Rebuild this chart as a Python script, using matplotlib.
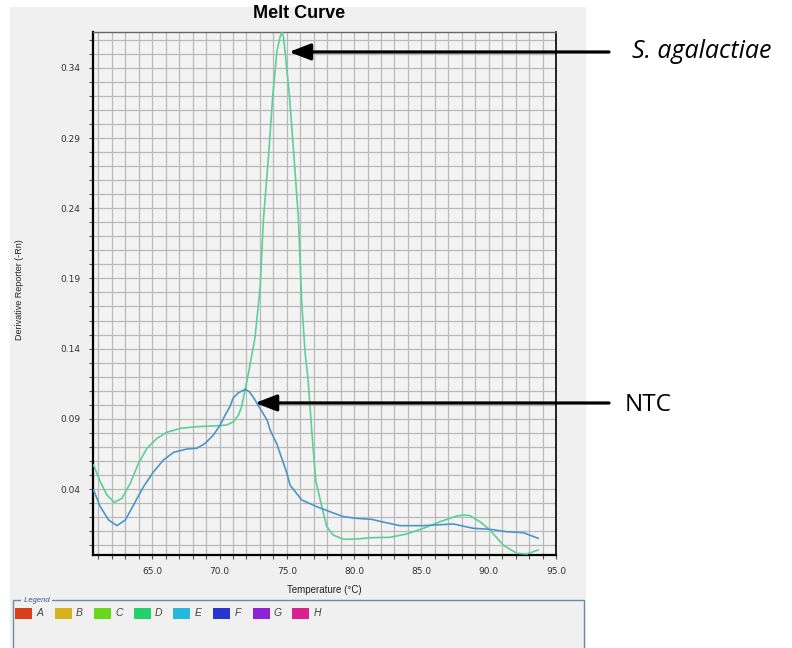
import matplotlib
matplotlib.use("Agg")
import matplotlib.pyplot as plt
from matplotlib.patches import Rectangle
from matplotlib.ticker import MultipleLocator, FixedLocator, FormatStrFormatter

# S. agalactiae melt curve (green)
green_t = [60.64, 61.14, 61.64, 62.18, 62.75, 63.37, 63.98, 64.61, 65.35, 66.09,
           67.08, 68.32, 69.55, 70.55, 71.04, 71.41, 71.65, 71.9, 72.2, 72.64,
           73.02, 73.26, 73.63, 73.96, 74.26, 74.5, 74.63, 74.75, 74.87, 75.19,
           75.54, 75.86, 76.11, 76.36, 76.58, 76.85, 77.15, 77.6, 77.97, 78.46,
           79.2, 80.2, 81.18, 82.67, 83.91, 85.14, 86.38, 87.62, 88.2, 88.61,
           89.35, 90.09, 91.08, 92.08, 92.82, 93.68]
green_v = [0.0571, 0.0452, 0.0357, 0.0305, 0.0334, 0.0441, 0.0583, 0.069, 0.0761, 0.0804,
           0.0832, 0.0844, 0.0849, 0.0856, 0.0879, 0.0927, 0.099, 0.1105, 0.125, 0.148,
           0.184, 0.2316, 0.2758, 0.3206, 0.3515, 0.362, 0.3653, 0.362, 0.3515, 0.3206,
           0.2758, 0.2331, 0.1725, 0.1369, 0.118, 0.082, 0.046, 0.0274, 0.0131, 0.0072,
           0.0042, 0.0044, 0.0053, 0.0056, 0.008, 0.012, 0.0167, 0.0208, 0.0215, 0.021,
           0.0167, 0.0108, 0.0001, -0.0058, -0.0063, -0.0034]

# NTC melt curve (blue)
blue_t = [60.64, 61.14, 61.76, 62.38, 63.0, 63.61, 64.35, 65.1, 65.84, 66.58,
          67.58, 68.32, 68.93, 69.55, 70.05, 70.42, 70.79, 71.01, 71.4, 71.9,
          72.2, 72.5, 72.77, 73.54, 73.76, 74.26, 75.0, 75.24, 76.11, 77.23,
          78.21, 79.2, 80.2, 81.31, 82.05, 83.41, 85.14, 87.37, 88.85, 90.09,
          91.33, 92.56, 93.68]
blue_v = [0.0393, 0.0274, 0.0179, 0.0139, 0.0179, 0.0286, 0.0416, 0.0523, 0.0607, 0.0661,
          0.0685, 0.069, 0.0725, 0.0785, 0.0856, 0.0927, 0.099, 0.1048, 0.1085, 0.111,
          0.1095, 0.1055, 0.1013, 0.089, 0.082, 0.072, 0.0514, 0.0428, 0.0322, 0.0274,
          0.0238, 0.0203, 0.0191, 0.0184, 0.0167, 0.0139, 0.0139, 0.0151, 0.012, 0.0113,
          0.0096, 0.0089, 0.0049]

x_major = [65, 70, 75, 80, 85, 90, 95]
y_major = [0.04, 0.09, 0.14, 0.19, 0.24, 0.29, 0.34]

legend_labels = ["A", "B", "C", "D", "E", "F", "G", "H"]
legend_colors = ["#d8401e", "#d6b21c", "#6ad61c", "#22d16e",
                 "#26b9dc", "#2438cf", "#8c24d6", "#d8228e"]

W, H = 792, 648
panel = "#f0f0f0"

fig = plt.figure(figsize=(W / 100, H / 100), dpi=100, facecolor="white")

def px(x, y):
    # pixel position (from top-left) -> figure fraction
    return x / W, 1 - y / H

# grey software panel behind the chart
fig.add_artist(Rectangle(px(10, 648), 576 / W, 641 / H, transform=fig.transFigure,
                         facecolor=panel, edgecolor="none", zorder=-5))

ax = fig.add_axes([93 / W, 1 - 555 / H, (556 - 93) / W, (555 - 32) / H])
ax.set_facecolor("#f3f3f3")

ax.plot(green_t, green_v, color="#5ccf9a", lw=1.2, zorder=3)
ax.plot(blue_t, blue_v, color="#4b96c6", lw=1.2, zorder=3)

ax.set_xlim(60.6, 95)
ax.set_ylim(-0.007, 0.3655)
ax.xaxis.set_major_locator(FixedLocator(x_major))
ax.xaxis.set_minor_locator(MultipleLocator(1))
ax.xaxis.set_major_formatter(FormatStrFormatter("%.1f"))
ax.yaxis.set_major_locator(FixedLocator(y_major))
ax.yaxis.set_minor_locator(MultipleLocator(0.01))
ax.yaxis.set_major_formatter(FormatStrFormatter("%.2f"))
ax.grid(True, which="both", color="#b9b9b9", lw=0.9, zorder=0)
ax.set_axisbelow(True)
ax.tick_params(which="both", direction="out", length=3, width=0.8, color="#555555",
               labelsize=6.5, labelcolor="#333333")
ax.tick_params(axis="x", pad=6)
ax.tick_params(axis="y", pad=6)

for side in ["left", "bottom"]:
    ax.spines[side].set_linewidth(1.6)
    ax.spines[side].set_color("black")
ax.spines["top"].set_color("#666666")
ax.spines["top"].set_linewidth(1.0)
ax.spines["right"].set_color("black")
ax.spines["right"].set_linewidth(1.2)

fig.text(*px(299, 13), "Melt Curve", ha="center", va="center",
         fontsize=13, fontweight="bold", family="Liberation Sans")
fig.text(*px(324, 590), "Temperature (°C)", ha="center", va="center",
         fontsize=7, family="Liberation Sans", color="#222222")
fig.text(*px(20, 290), "Derivative Reporter (-Rn)", ha="center", va="center",
         rotation=90, fontsize=6.5, family="Liberation Sans", color="#222222")

# arrows pointing at the two curves
arrow = dict(arrowstyle="-|>,head_length=1.3,head_width=0.5", lw=2.3,
             color="black", mutation_scale=10, shrinkA=0, shrinkB=0)
ax.annotate("", xy=(75.17, 0.3513), xycoords="data",
            xytext=(609, H - 52), textcoords="figure pixels",
            arrowprops=arrow, annotation_clip=False)
ax.annotate("", xy=(72.65, 0.1013), xycoords="data",
            xytext=(609, H - 403), textcoords="figure pixels",
            arrowprops=arrow, annotation_clip=False)
fig.text(*px(632, 52), "S. agalactiae", ha="left", va="center",
         fontsize=18, style="italic", family="Open Sans")
fig.text(*px(625, 405), "NTC", ha="left", va="center",
         fontsize=17.5, family="Open Sans")

# legend box at the bottom of the panel
fig.add_artist(Rectangle(px(13, 660), 571 / W, 60 / H, transform=fig.transFigure,
                         facecolor="none", edgecolor="#6d8ca3", lw=1.0, zorder=2))
fig.text(*px(22, 600), " Legend ", ha="left", va="center", fontsize=5.5,
         style="italic", color="#3a5a9a", family="Liberation Sans", zorder=3,
         bbox=dict(facecolor=panel, edgecolor="none", pad=0.5))
for i, (lab, col) in enumerate(zip(legend_labels, legend_colors)):
    x0 = 15 + i * 39.6
    fig.add_artist(Rectangle(px(x0, 619), 17 / W, 11 / H, transform=fig.transFigure,
                             facecolor=col, edgecolor="none", zorder=3))
    fig.text(*px(x0 + 25, 613.5), lab, ha="center", va="center", fontsize=7.5,
             style="italic", color="#444444", family="Liberation Sans")

fig.savefig("out.png", dpi=100, facecolor=fig.get_facecolor())
